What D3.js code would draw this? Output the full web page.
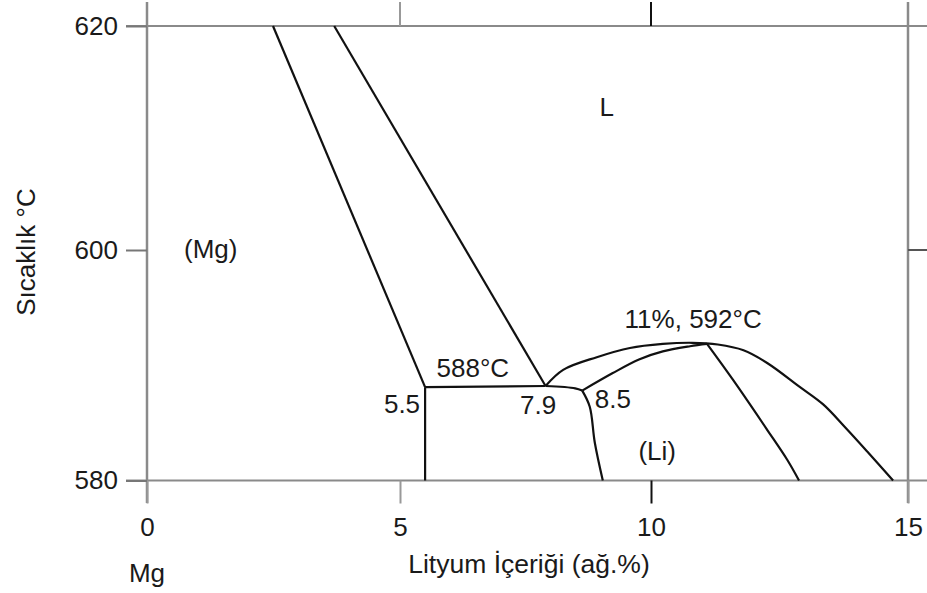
<!DOCTYPE html>
<html>
<head>
<meta charset="utf-8">
<script src="https://cdn.jsdelivr.net/npm/d3@7"></script>
<style>
  body { margin: 0; background: #fff; }
  svg text { font-family: "Liberation Sans", Arial, sans-serif; fill: #1a1a1a; }
</style>
</head>
<body>
<div id="chart"></div>
<script>
// Mg-Li phase diagram (Mg rich corner)

// axes
const xTicks = [0, 5, 10, 15];
const yTicks = [580, 600, 620];
const xTitle = "Lityum İçeriği (ağ.%)";
const yTitle = "Sıcaklık °C";

// phase boundaries, [Li wt%, temperature °C]
const mgSolidus = [[2.49, 620], [5.5, 588.1]];
const mgLiquidus = [[3.70, 620], [7.9, 588.2]];
const eutectic = [[5.5, 588.1], [7.9, 588.2]];
const mgSolvus = [[5.5, 588.1], [5.5, 580]];
const periLine = [[7.9, 588.2], [8.49, 588.0], [8.63, 587.8]];
const liSolvusLeft = [[8.63, 587.8], [8.78, 586.4], [8.88, 583.3], [9.04, 580]];
const liqRight = [[7.9, 588.2], [8.25, 589.6], [8.92, 590.7], [9.58, 591.5], [10.23, 591.85],
                  [10.8, 591.95], [11.3, 591.8], [11.8, 591.3], [12.26, 590.2], [12.90, 588.1],
                  [13.35, 586.6], [13.78, 584.6], [14.22, 582.45], [14.71, 580]];
const solidusDome = [[8.63, 587.8], [9.23, 589.3], [9.76, 590.5], [10.23, 591.2], [10.76, 591.65], [11.09, 591.85]];
const rightSolvus = [[11.09, 591.85], [11.60, 588.7], [12.26, 584.4], [12.65, 581.8], [12.88, 580]];

// annotations
const labelText = ["L", "(Mg)", "(Li)", "588°C", "5.5", "7.9", "8.5", "11%, 592°C"];
const labelAt = [[9.12, 612], [1.26, 599.3], [10.12, 581.8], [6.45, 589.0], [5.4, 585.85],
                 [7.75, 585.75], [8.88, 586.3], [10.82, 593.2]];
const labelAnchor = ["middle", "middle", "middle", "middle", "end", "middle", "start", "middle"];

const W = 927, H = 593;

const svg = d3.select('#chart').append('svg')
  .attr('width', W)
  .attr('height', H);

// the scanned axis is slightly uneven, so each scale follows its ticks
const x = d3.scaleLinear().domain([0, 5, 10, 15]).range([147, 400, 651, 908]);
const y = d3.scaleLinear().domain([580, 600, 620]).range([480.5, 250, 26]);

const frame = '#8a8a8a';

// frame lines
svg.append('g')
  .selectAll('line.h')
  .data([580, 620])
  .enter().append('line')
    .attr('x1', 126).attr('x2', W)
    .attr('y1', d => y(d)).attr('y2', d => y(d))
    .attr('stroke', frame).attr('stroke-width', 2);

svg.append('g')
  .selectAll('line.v')
  .data([0, 15])
  .enter().append('line')
    .attr('x1', d => x(d)).attr('x2', d => x(d))
    .attr('y1', 2).attr('y2', 503)
    .attr('stroke', frame).attr('stroke-width', 2.5);

// top ticks pointing up
svg.append('g')
  .selectAll('line')
  .data([5, 10])
  .enter().append('line')
    .attr('x1', d => x(d)).attr('x2', d => x(d))
    .attr('y1', 2).attr('y2', y(620))
    .attr('stroke', d => d === 10 ? '#111' : '#999')
    .attr('stroke-width', 2);

// right tick at 600
svg.append('line')
  .attr('x1', x(15)).attr('x2', W)
  .attr('y1', y(600)).attr('y2', y(600))
  .attr('stroke', '#555').attr('stroke-width', 2);

// bottom axis
const xAxis = svg.append('g')
  .attr('transform', 'translate(0,' + y(580) + ')')
  .call(d3.axisBottom(x).tickValues(xTicks).tickSize(23).tickPadding(14));
xAxis.select('.domain').remove();
xAxis.selectAll('.tick line')
  .attr('stroke', d => d === 10 ? '#111' : '#999')
  .attr('stroke-width', 2);
xAxis.selectAll('.tick text')
  .style('font-size', '26px')
  .style('font-family', '"Liberation Sans", Arial, sans-serif')
  .attr('fill', '#1a1a1a');

// left axis
const yAxis = svg.append('g')
  .attr('transform', 'translate(' + x(0) + ',0)')
  .call(d3.axisLeft(y).tickValues(yTicks).tickSize(21).tickPadding(8));
yAxis.select('.domain').remove();
yAxis.selectAll('.tick line')
  .attr('stroke', '#777')
  .attr('stroke-width', 2);
yAxis.selectAll('.tick text')
  .style('font-size', '26px')
  .style('font-family', '"Liberation Sans", Arial, sans-serif')
  .attr('fill', '#1a1a1a');

// boundaries
const straight = d3.line().x(d => x(d[0])).y(d => y(d[1]));
const smooth = d3.line().x(d => x(d[0])).y(d => y(d[1])).curve(d3.curveCatmullRom.alpha(0.5));

const paths = svg.append('g')
  .attr('fill', 'none')
  .attr('stroke', '#111')
  .attr('stroke-width', 2.2)
  .attr('stroke-linejoin', 'round');

[mgSolidus, mgLiquidus, eutectic, mgSolvus].forEach(function(d) {
  paths.append('path').attr('d', straight(d));
});
[periLine, liSolvusLeft, liqRight, solidusDome, rightSolvus].forEach(function(d) {
  paths.append('path').attr('d', smooth(d));
});

// labels inside the plot
labelText.forEach(function(t, i) {
  svg.append('text')
    .attr('x', x(labelAt[i][0]))
    .attr('y', y(labelAt[i][1]))
    .attr('text-anchor', labelAnchor[i])
    .style('font-size', '26px')
    .text(t);
});

// "Mg" under the 0 tick
svg.append('text')
  .attr('x', x(0))
  .attr('y', 582)
  .attr('text-anchor', 'middle')
  .style('font-size', '26px')
  .text('Mg');

// axis titles
svg.append('text')
  .attr('x', 529)
  .attr('y', 573)
  .attr('text-anchor', 'middle')
  .style('font-size', '26.5px')
  .text(xTitle);

svg.append('text')
  .attr('transform', 'translate(35,252) rotate(-90)')
  .attr('text-anchor', 'middle')
  .style('font-size', '26px')
  .text(yTitle);
</script>
</body>
</html>
